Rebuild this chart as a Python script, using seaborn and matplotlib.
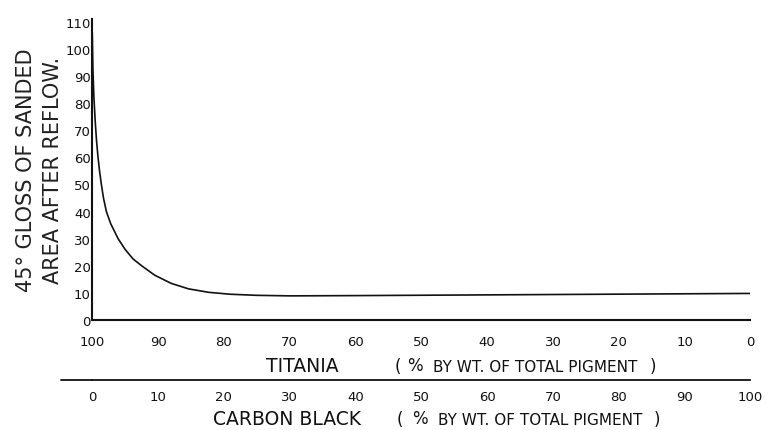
import matplotlib
matplotlib.use("Agg")
import matplotlib.pyplot as plt
import seaborn as sns
import pandas as pd

# ---- data ----
carbon_black_pct = [0, 0.1, 0.25, 0.45, 0.65, 0.87, 1.1, 1.38, 1.7, 2.14, 2.8, 3.92,
                    5.0, 6.2, 7.5, 9.5, 12, 14.6, 17.7, 21, 25, 30, 40, 55, 70, 85, 100]
gloss = [106, 92, 82, 73, 66, 60, 55, 50, 45, 40, 35.5, 30,
         26, 22.5, 20, 16.5, 13.5, 11.5, 10.2, 9.5, 9.1, 8.9, 9.0, 9.2, 9.4, 9.6, 9.8]
y_ticks = [0, 10, 20, 30, 40, 50, 60, 70, 80, 90, 100, 110]
cb_ticks = [0, 10, 20, 30, 40, 50, 60, 70, 80, 90, 100]
titania_labels = ["100", "90", "80", "70", "60", "50", "40", "30", "20", "10", "0"]
cb_labels = ["0", "10", "20", "30", "40", "50", "60", "70", "80", "90", "100"]

df = pd.DataFrame({"cb": carbon_black_pct, "gloss": gloss})

sns.set_theme(style="white")
plt.rcParams['font.family'] = ['DejaVu Sans']

INK = "#111111"
fig = plt.figure(figsize=(7.71, 4.31), dpi=100)
ax = fig.add_axes([0.1197, 0.2552, 0.8537, 0.6984])

sns.lineplot(data=df, x="cb", y="gloss", ax=ax, color=INK, linewidth=1.2)

ax.set_xlim(0, 100)
ax.set_ylim(0, 111)
for s in ["top", "right"]:
    ax.spines[s].set_visible(False)
for s in ["left", "bottom"]:
    ax.spines[s].set_color(INK)
    ax.spines[s].set_linewidth(1.5)

ax.set_yticks(y_ticks)
ax.set_yticklabels([str(v) for v in y_ticks])
ax.tick_params(axis="y", length=0, pad=1, labelsize=9.5, colors=INK)
ax.set_xticks(cb_ticks)
ax.set_xticklabels(titania_labels)
ax.tick_params(axis="x", length=0, pad=11, labelsize=9.5, colors=INK)
ax.set_xlabel("")
ax.set_ylabel("45° GLOSS OF SANDED\nAREA AFTER REFLOW.", fontsize=15,
              color="#222222", linespacing=1.4, labelpad=2)

# secondary (carbon black) axis
sec = ax.secondary_xaxis(-0.2)
sec.set_xticks(cb_ticks)
sec.set_xticklabels(cb_labels)
sec.tick_params(axis="x", length=0, pad=7, labelsize=9.5, colors=INK)
sec.spines["bottom"].set_color(INK)
sec.spines["bottom"].set_linewidth(1.3)
ax.plot([-0.047, 0.0], [-0.2, -0.2], transform=ax.transAxes, clip_on=False,
        color=INK, linewidth=1.3)

# axis titles
def ftext(x, y, s, size):
    fig.text(x / 771, 1 - y / 431, s, fontsize=size, ha="center", va="center", color=INK)

ftext(302, 367, "TITANIA", 13.5)
ftext(398, 367, "(", 12)
ftext(415, 366, "%", 12)
ftext(535, 368, "BY WT. OF TOTAL PIGMENT", 11)
ftext(653, 367, ")", 12)

ftext(287, 420, "CARBON BLACK", 13.5)
ftext(400, 420, "(", 12)
ftext(420, 419, "%", 12)
ftext(540, 421, "BY WT. OF TOTAL PIGMENT", 11)
ftext(657, 420, ")", 12)

fig.savefig("out.png", dpi=100, facecolor="white")
